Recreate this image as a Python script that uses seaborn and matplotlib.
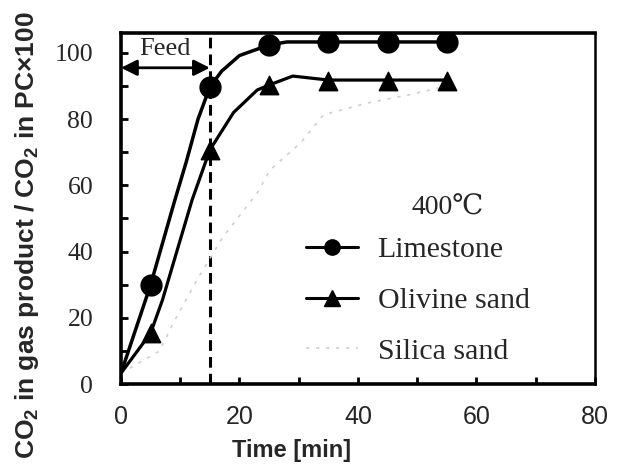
import matplotlib
matplotlib.use('Agg')
import matplotlib.pyplot as plt
from matplotlib.lines import Line2D
from matplotlib.ticker import MultipleLocator
import pandas as pd
import seaborn as sns

# curves
lime_t = [0, 5, 7, 9, 11, 13, 15, 17, 20, 25, 28, 55]
lime_v = [3.3, 30, 42.5, 55, 67, 80, 89.7, 94.5, 99.2, 102.4, 103.3, 103.3]
oliv_t = [0, 5, 7, 9, 12, 15, 19, 23, 25, 29, 35, 55]
oliv_v = [3.3, 15.4, 25.4, 37.5, 55.6, 70.7, 82, 88.8, 90.3, 93, 91.8, 91.8]
sil_t = [0, 6.5, 9, 13, 17.2, 23, 25.2, 30.3, 34.2, 41.7, 48.5, 53.6]
sil_v = [3.3, 10, 19, 32, 44.4, 57.7, 64.7, 72.8, 81.3, 84.9, 87.3, 89.4]

# measured points
pt_t = [5, 15, 25, 35, 45, 55]
lime_pts = [29.9, 89.7, 102.4, 103.3, 103.3, 103.3]
oliv_pts = [15.4, 70.7, 90.3, 91.6, 91.6, 91.6]

feed_end = 15

sns.set_style('ticks')
plt.rcParams['font.family'] = ['Liberation Serif', 'DejaVu Serif']
plt.rcParams['mathtext.fontset'] = 'custom'
plt.rcParams['mathtext.rm'] = 'Liberation Sans:bold'

fig = plt.figure(figsize=(6.19, 4.65), dpi=100)
ax = fig.add_axes([0.1955, 0.174, 0.7655, 0.755])

lime = pd.DataFrame({'t': lime_t, 'v': lime_v})
oliv = pd.DataFrame({'t': oliv_t, 'v': oliv_v})
sil = pd.DataFrame({'t': sil_t, 'v': sil_v})

sil_color = '#cfcfcf'
sns.lineplot(data=sil, x='t', y='v', ax=ax, color=sil_color, lw=1.2, ls=(0, (2, 4)), sort=False)
sns.lineplot(data=oliv, x='t', y='v', ax=ax, color='k', lw=2.3, sort=False)
sns.lineplot(data=lime, x='t', y='v', ax=ax, color='k', lw=2.5, sort=False)
sns.scatterplot(x=pt_t, y=oliv_pts, ax=ax, marker='^', s=175, color='k', edgecolor='k', zorder=5)
sns.scatterplot(x=pt_t, y=lime_pts, ax=ax, marker='o', s=220, color='k', edgecolor='k', zorder=5)

ax.axvline(feed_end, color='k', lw=2.2, ls=(0, (3.5, 2)), zorder=1)
ax.annotate('', xy=(0, 95.5), xytext=(feed_end, 95.5),
            arrowprops=dict(arrowstyle='<|-|>', lw=2, color='k',
                            mutation_scale=24, shrinkA=0, shrinkB=0))
ax.text(feed_end / 2, 101.3, 'Feed', ha='center', va='center', fontsize=19)

ax.set_xlim(0, 80)
ax.set_ylim(0, 106)
ax.xaxis.set_major_locator(MultipleLocator(20))
ax.xaxis.set_minor_locator(MultipleLocator(10))
ax.yaxis.set_major_locator(MultipleLocator(20))
ax.yaxis.set_minor_locator(MultipleLocator(10))
ax.tick_params(which='both', direction='in', length=5, width=2, color='k')
ax.tick_params(axis='x', pad=15)
ax.tick_params(axis='y', pad=20)
for lab in ax.get_yticklabels():
    lab.set_fontsize(18.5)
for lab in ax.get_xticklabels():
    lab.set_family(['Liberation Sans Narrow', 'Liberation Sans'])
    lab.set_fontsize(18)

for side in ['left', 'bottom', 'top']:
    ax.spines[side].set_linewidth(2.6)
ax.spines['right'].set_linewidth(1.8)
for sp in ax.spines.values():
    sp.set_color('k')

ax.set_xlabel('Time [min]', family='Liberation Sans', fontsize=17, weight='bold')
ax.xaxis.set_label_coords(0.36, -0.155)
ax.set_ylabel('CO$_\\mathregular{2}$ in gas product / CO$_\\mathregular{2}$ in PC\u00d7100',
              family='Liberation Sans', fontsize=19, weight='bold')
ax.yaxis.set_label_coords(-0.168, 0.424)

ax.text(0.69, 0.5, '400\u2103', transform=ax.transAxes, ha='center', va='center', fontsize=20)
handles = [
    Line2D([], [], color='k', lw=2.2, marker='o', markersize=11),
    Line2D([], [], color='k', lw=2.2, marker='^', markersize=11),
    Line2D([], [], color=sil_color, lw=1.2, ls=(0, (2, 4))),
]
ax.legend(handles, ['Limestone', 'Olivine sand', 'Silica sand'], frameon=False,
          fontsize=21.5, loc='upper left', bbox_to_anchor=(0.365, 0.455),
          handlelength=1.75, handletextpad=0.65, labelspacing=0.8, borderaxespad=0)

fig.savefig('out.png', dpi=100)
